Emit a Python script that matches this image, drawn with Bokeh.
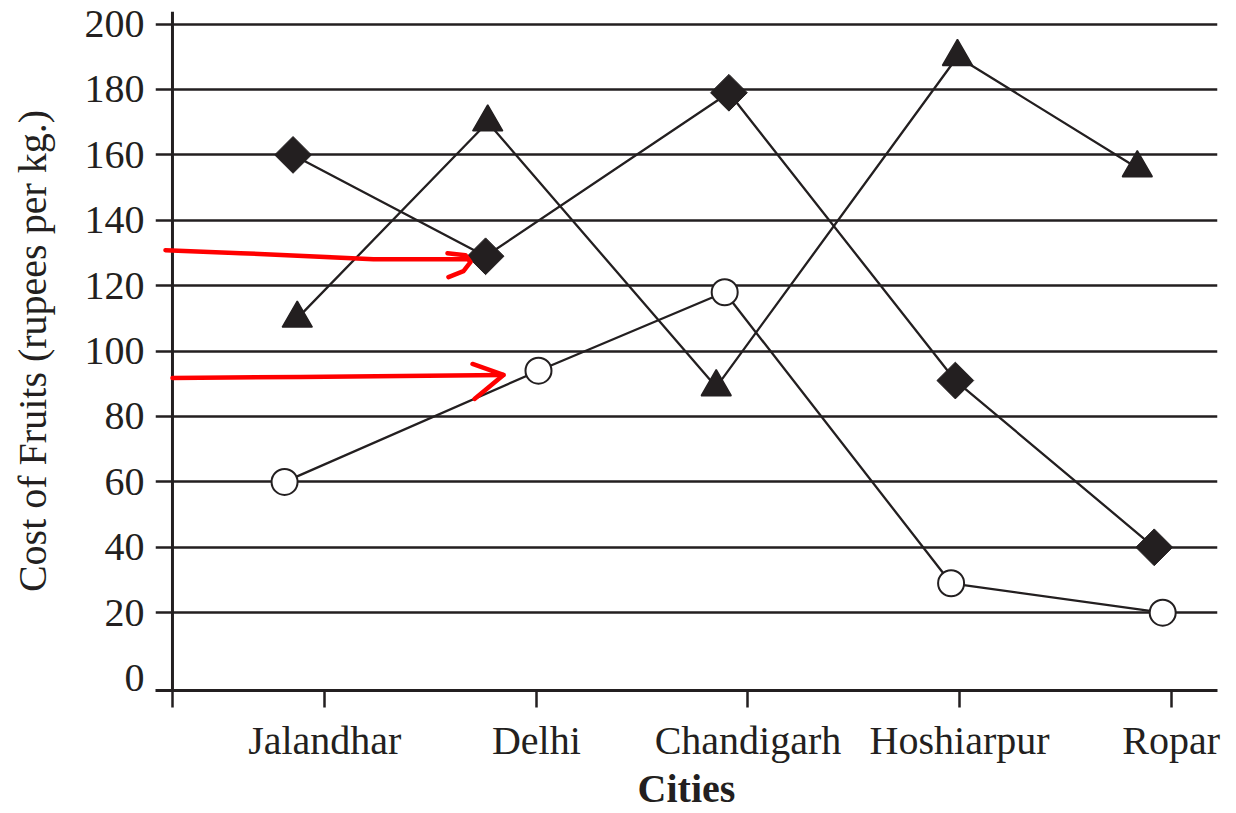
import numpy as np
from bokeh.plotting import figure
from bokeh.models import Range1d, FixedTicker, Span, PolyAnnotation
from bokeh.embed import file_html
from bokeh.resources import INLINE

# ---------------- data ----------------
cities = ["Jalandhar", "Delhi", "Chandigarh", "Hoshiarpur", "Ropar"]
city_pos = [1, 2, 3, 4, 5]
y_ticks = [0, 20, 40, 60, 80, 100, 120, 140, 160, 180, 200]
grid_ticks = [20, 40, 60, 80, 100, 120, 140, 160, 180, 200]

# x is in city-index units (markers in the source sit a little off the ticks)
diamond_x = [0.85, 1.76, 2.91, 3.98, 4.92]
diamond_y = [160, 129, 179, 91, 40]
triangle_x = [0.87, 1.77, 2.85, 3.99, 4.84]
triangle_y = [110, 170, 89, 190, 156]
circle_x = [0.81, 2.01, 2.89, 3.96, 4.96]
circle_y = [60, 94, 118, 29, 20]

INK = "#231f20"
FONT = "Liberation Serif"

p = figure(width=1236, height=813, output_backend="svg", toolbar_location=None,
           x_range=Range1d(0.2, 5.219), y_range=Range1d(-3.79, 203.85),
           min_border_left=155, min_border_right=19, min_border_top=11, min_border_bottom=122,
           background_fill_color="white", border_fill_color="white", outline_line_color=None)

# axes
p.xgrid.visible = False
p.ygrid.ticker = FixedTicker(ticks=grid_ticks)
p.ygrid.grid_line_color = INK
p.ygrid.grid_line_width = 2.5

yax = p.yaxis[0]
yax.ticker = FixedTicker(ticks=y_ticks)
yax.axis_line_color = None
yax.major_tick_line_color = None
yax.major_tick_in = 0
yax.major_tick_out = 0
yax.minor_tick_line_color = None
yax.minor_tick_out = 0
yax.major_label_standoff = 11
yax.major_label_text_font = FONT
yax.major_label_text_font_size = "40px"
yax.major_label_text_color = INK
yax.axis_label = "Cost of Fruits (rupees per kg.)"
yax.axis_label_standoff = 27
yax.axis_label_text_font = FONT
yax.axis_label_text_font_size = "40px"
yax.axis_label_text_font_style = "normal"
yax.axis_label_text_color = INK

y_axis_x = 0.2802  # position of the vertical axis line in city-index units
xax = p.xaxis[0]
xax.ticker = FixedTicker(ticks=[y_axis_x] + city_pos)
overrides = {y_axis_x: ""}
overrides.update({pos: name for pos, name in zip(city_pos, cities)})
xax.major_label_overrides = overrides
xax.axis_line_color = INK
xax.axis_line_width = 3
xax.major_tick_line_color = INK
xax.major_tick_line_width = 2.5
xax.major_tick_in = 0
xax.major_tick_out = 17
xax.minor_tick_line_color = None
xax.minor_tick_out = 0
xax.major_label_standoff = 10
xax.major_label_text_font = FONT
xax.major_label_text_font_size = "40px"
xax.major_label_text_color = INK
xax.axis_label = "Cities"
xax.axis_label_standoff = 0
xax.axis_label_text_font = FONT
xax.axis_label_text_font_size = "40px"
xax.axis_label_text_font_style = "bold"
xax.axis_label_text_color = INK

p.add_layout(Span(location=y_axis_x, dimension="height", line_color=INK, line_width=3))

# series
p.line(diamond_x, diamond_y, line_color=INK, line_width=2.3)
p.line(triangle_x, triangle_y, line_color=INK, line_width=2.3)
p.line(circle_x, circle_y, line_color=INK, line_width=2.3)
p.scatter(diamond_x, diamond_y, marker="square", angle=np.pi / 4, size=26,
          fill_color=INK, line_color=INK, line_width=1)
p.scatter(triangle_x, triangle_y, marker="triangle", size=30,
          fill_color=INK, line_color=INK, line_width=1.5)
p.scatter(circle_x, circle_y, marker="circle", size=26,
          fill_color="white", line_color=INK, line_width=2)

# ---------------- red hand-drawn arrows present in the reference ----------------
def px2x(px):
    return 1 + (px - 324.3) / 211.6

def py2y(py):
    return (678.6 - py) / 3.275

RED = "#ff0000"

def stroke(points, width=4.5):
    pts = list(points)
    pts = pts + pts[-2:0:-1]
    p.add_layout(PolyAnnotation(xs=[px2x(a) for a, b in pts], ys=[py2y(b) for a, b in pts],
                                fill_color=None, fill_alpha=0, line_color=RED, line_alpha=1,
                                line_width=width, line_join="round", line_cap="round"))

stroke([(165, 250), (240, 253), (373, 259), (467, 259)])
stroke([(447, 253), (465, 255), (470, 262), (463, 271), (448, 277)])
stroke([(172, 378), (300, 377), (503, 375)])
stroke([(472, 364), (503, 375), (474, 399)])

open("out.html", "w").write(file_html(p, INLINE))
